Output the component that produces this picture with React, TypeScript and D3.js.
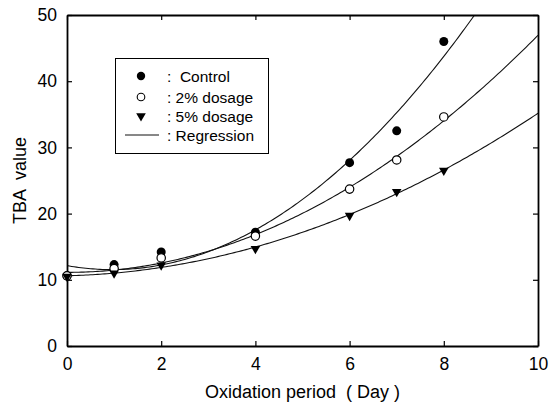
import { useEffect, useRef } from "react";
import * as d3 from "d3";

// data
const days = [0, 1, 2, 4, 6, 7, 8];
const control = [10.6, 12.3, 14.2, 17.2, 27.7, 32.5, 46.0];
const dosage2 = [10.6, 11.7, 13.3, 16.6, 23.7, 28.1, 34.6];
const dosage5 = [10.5, 11.0, 12.2, 14.7, 19.7, 23.3, 26.5];
const xTicks = [0, 2, 4, 6, 8, 10];
const yTicks = [0, 10, 20, 30, 40, 50];
const legendLabels = [":  Control", ": 2% dosage", ": 5% dosage", ": Regression"];

// quadratic least squares fit, the "Regression" lines
function quadFit(xs: number[], ys: number[]) {
  const s = (f: (x: number, y: number) => number) => d3.sum(xs, (x, i) => f(x, ys[i]));
  const n = xs.length;
  const sx = s((x) => x), sx2 = s((x) => x * x), sx3 = s((x) => x ** 3), sx4 = s((x) => x ** 4);
  const sy = s((x, y) => y), sxy = s((x, y) => x * y), sx2y = s((x, y) => x * x * y);
  // solve 3x3 by cramer
  const M = [[n, sx, sx2], [sx, sx2, sx3], [sx2, sx3, sx4]];
  const R = [sy, sxy, sx2y];
  const det = (m: number[][]) =>
    m[0][0] * (m[1][1] * m[2][2] - m[1][2] * m[2][1]) -
    m[0][1] * (m[1][0] * m[2][2] - m[1][2] * m[2][0]) +
    m[0][2] * (m[1][0] * m[2][1] - m[1][1] * m[2][0]);
  const D = det(M);
  const coef = [0, 1, 2].map((k) => det(M.map((row, i) => row.map((v, j) => (j === k ? R[i] : v)))) / D);
  return (x: number) => coef[0] + coef[1] * x + coef[2] * x * x;
}

export default function App() {
  const chart = useRef<SVGSVGElement>(null);

  useEffect(() => {
    const svg = d3.select(chart.current);
    svg.selectAll("*").remove();
    const font = "'Liberation Sans', Arial, sans-serif";

    const left = 67, right = 538, top = 15, bottom = 346;
    const x = d3.scaleLinear().domain([0, 10]).range([left, right]);
    const y = d3.scaleLinear().domain([0, 50]).range([bottom, top]);

    svg.append("defs").append("clipPath").attr("id", "plotclip")
      .append("rect").attr("x", left).attr("y", top).attr("width", right - left).attr("height", bottom - top);

    // regression curves
    const series = [control, dosage2, dosage5];
    const curveG = svg.append("g").attr("clip-path", "url(#plotclip)");
    series.forEach((ys) => {
      const f = quadFit(days, ys);
      const pts = d3.range(0, 10.001, 0.05);
      const path = d3.line<number>().x((d) => x(d)).y((d) => y(f(d)))(pts);
      curveG.append("path").attr("d", path).attr("fill", "none").attr("stroke", "#111").attr("stroke-width", 1.1);
    });

    // axes with inward ticks on all sides
    const axisStyle = (g: any) => {
      g.selectAll(".domain").attr("stroke", "#000").attr("stroke-width", 1.8);
      g.selectAll(".tick line").attr("stroke", "#000").attr("stroke-width", 1.2);
    };
    svg.append("g").attr("transform", `translate(0,${bottom})`)
      .call(d3.axisBottom(x).tickValues(xTicks).tickSize(-5).tickSizeOuter(0).tickPadding(12))
      .call(axisStyle)
      .call((g) => g.selectAll("text").attr("font-family", font).attr("font-size", 17.5).attr("fill", "#000"));
    svg.append("g").attr("transform", `translate(0,${top})`)
      .call(d3.axisTop(x).tickValues(xTicks).tickSize(-5).tickSizeOuter(0).tickFormat(() => ""))
      .call(axisStyle);
    svg.append("g").attr("transform", `translate(${left},0)`)
      .call(d3.axisLeft(y).tickValues(yTicks).tickSize(-5).tickSizeOuter(0).tickPadding(10))
      .call(axisStyle)
      .call((g) => g.selectAll("text").attr("font-family", font).attr("font-size", 17.5).attr("fill", "#000"));
    svg.append("g").attr("transform", `translate(${right},0)`)
      .call(d3.axisRight(y).tickValues(yTicks).tickSize(-5).tickSizeOuter(0).tickFormat(() => ""))
      .call(axisStyle);

    // markers
    const tri = d3.symbol().type(d3.symbolTriangle).size(40);
    const pts = svg.append("g");
    days.forEach((d, i) => {
      pts.append("circle").attr("cx", x(d)).attr("cy", y(control[i])).attr("r", 4.5).attr("fill", "#000");
      pts.append("circle").attr("cx", x(d)).attr("cy", y(dosage2[i])).attr("r", 4.2)
        .attr("fill", "#fff").attr("stroke", "#000").attr("stroke-width", 1.2);
      pts.append("path").attr("d", tri).attr("transform", `translate(${x(d)},${y(dosage5[i])}) rotate(180)`).attr("fill", "#000");
    });

    // axis titles
    svg.append("text").attr("x", (left + right) / 2).attr("y", 398).attr("text-anchor", "middle")
      .attr("font-family", font).attr("font-size", 18).attr("xml:space", "preserve")
      .text("Oxidation period  ( Day )");
    svg.append("text").attr("transform", `translate(26,${(top + bottom) / 2}) rotate(-90)`)
      .attr("text-anchor", "middle").attr("font-family", font).attr("font-size", 18).attr("xml:space", "preserve")
      .text("TBA  value");

    // legend
    const lg = svg.append("g");
    lg.append("rect").attr("x", 115.5).attr("y", 58.5).attr("width", 153).attr("height", 95)
      .attr("fill", "#fff").attr("stroke", "#000").attr("stroke-width", 1);
    const rows = [76, 97, 116, 135];
    lg.append("circle").attr("cx", 141).attr("cy", rows[0]).attr("r", 4.2).attr("fill", "#000");
    lg.append("circle").attr("cx", 141).attr("cy", rows[1]).attr("r", 3.8).attr("fill", "#fff").attr("stroke", "#000").attr("stroke-width", 1.1);
    lg.append("path").attr("d", tri).attr("transform", `translate(141,${rows[2]}) rotate(180)`).attr("fill", "#000");
    lg.append("line").attr("x1", 125).attr("x2", 159).attr("y1", rows[3]).attr("y2", rows[3]).attr("stroke", "#111").attr("stroke-width", 1);
    legendLabels.forEach((t, i) => {
      lg.append("text").attr("x", 167).attr("y", rows[i] + 5.5).attr("font-family", font).attr("font-size", 15.5)
        .attr("xml:space", "preserve").text(t);
    });
  }, []);

  return (
    <svg ref={chart} width={559} height={411} style={{ position: "absolute", left: 0, top: 0, background: "#fff" }} />
  );
}
